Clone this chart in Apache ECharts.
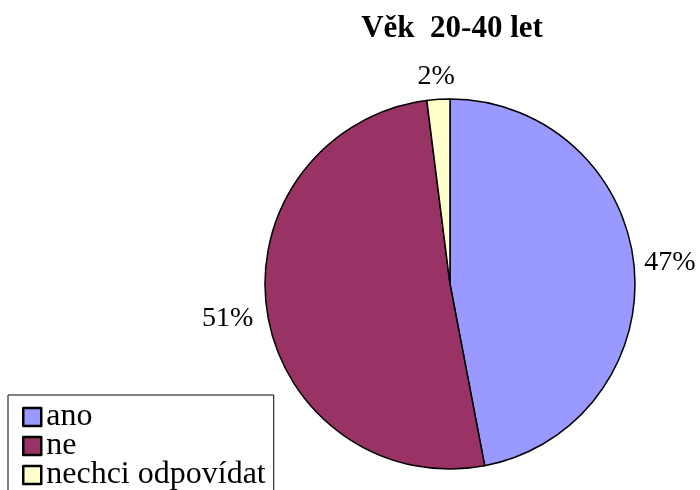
<!DOCTYPE html>
<html>
<head>
<meta charset="utf-8">
<script src="https://cdn.jsdelivr.net/npm/echarts@6/dist/echarts.min.js"></script>
<style>
  html, body { margin: 0; padding: 0; background: #fff; }
  #chart { width: 700px; height: 490px; }
</style>
</head>
<body>
<div id="chart"></div>
<script>
// Answer categories and their shares (percent)
const categories = ['ano', 'ne', 'nechci odpovídat'];
const shares = [47, 51, 2];
const colors = ['#9999FF', '#993366', '#FFFFCC'];
const titleText = 'Věk  20-40 let';

const serif = '"Liberation Serif", "DejaVu Serif", serif';

const chart = echarts.init(document.getElementById('chart'), null, { renderer: 'canvas' });

chart.setOption({
  backgroundColor: '#ffffff',
  animation: false,
  title: {
    text: titleText,
    left: 447,
    textAlign: 'center',
    top: 8,
    textStyle: { fontFamily: serif, fontWeight: 'bold', fontSize: 31, color: '#000' }
  },
  legend: {
    orient: 'vertical',
    left: 8,
    top: 395,
    height: 140,
    data: categories,
    borderColor: '#000',
    borderWidth: 1,
    padding: [6, 8, 10, 14],
    itemGap: -3,
    itemWidth: 18,
    itemHeight: 18,
    icon: 'rect',
    itemStyle: { borderColor: '#000', borderWidth: 2.5 },
    textStyle: { fontFamily: serif, fontSize: 32, color: '#000' }
  },
  series: [{
    type: 'pie',
    center: [450, 284],
    radius: 185,
    startAngle: 90,
    clockwise: true,
    data: categories.map((name, i) => ({
      name,
      value: shares[i],
      itemStyle: { color: colors[i] }
    })),
    itemStyle: { borderColor: '#000', borderWidth: 1.5 },
    label: {
      show: true,
      position: 'outside',
      formatter: p => Math.round(p.percent) + '%',
      fontFamily: serif,
      fontSize: 28,
      color: '#000',
      overflow: 'none',
      width: 80
    },
    labelLine: { show: false, length: 5, length2: 0 },
    // the small slice at the top gets its label centred above it
    labelLayout: params => params.dataIndex === 2
      ? { align: 'center', verticalAlign: 'bottom', dx: 3, dy: -4 }
      : (params.dataIndex === 1 ? { dx: -4, dy: 5 } : { dy: -3 }),
    emphasis: { disabled: true }
  }]
});
</script>
</body>
</html>
